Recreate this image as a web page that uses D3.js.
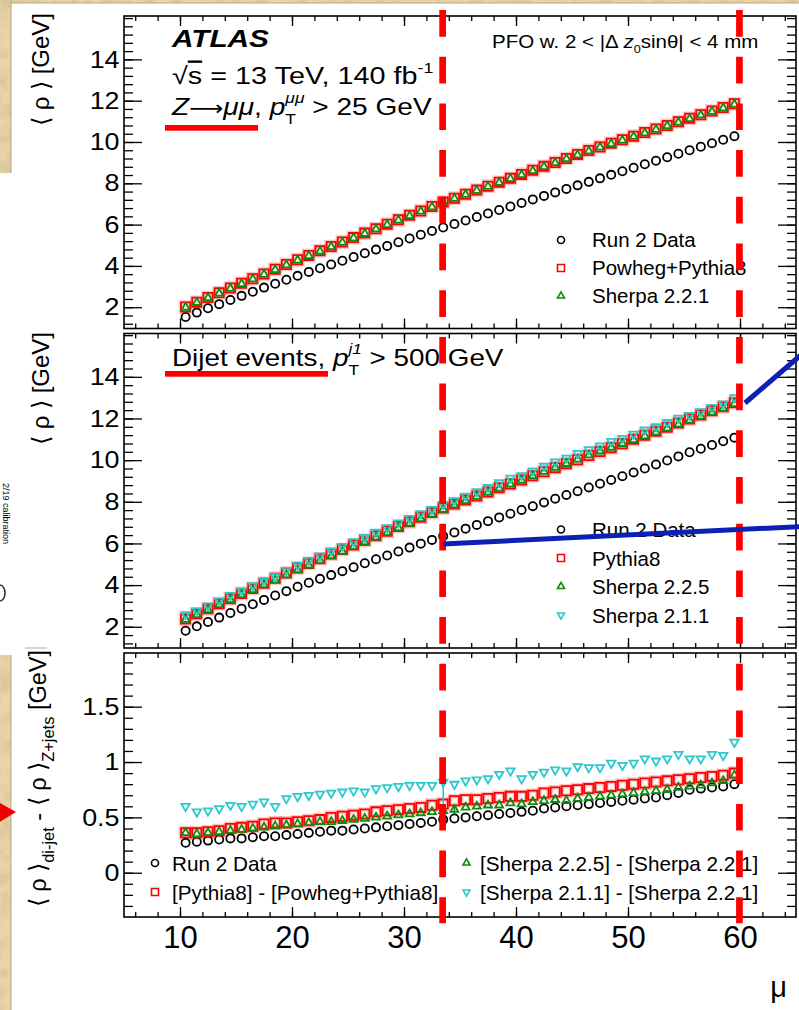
<!DOCTYPE html>
<html>
<head>
<meta charset="utf-8">
<script src="https://cdn.jsdelivr.net/npm/d3@7/dist/d3.min.js"></script>
<style>
  body { margin: 0; background: #fff; }
  svg { display: block; }
  text { white-space: pre; }
</style>
</head>
<body>
<script>
// pile-up bin centres (mu)
const mu = [10.5,11.5,12.5,13.5,14.5,15.5,16.5,17.5,18.5,19.5,20.5,21.5,22.5,23.5,24.5,25.5,26.5,27.5,28.5,29.5,
            30.5,31.5,32.5,33.5,34.5,35.5,36.5,37.5,38.5,39.5,40.5,41.5,42.5,43.5,44.5,45.5,46.5,47.5,48.5,49.5,
            50.5,51.5,52.5,53.5,54.5,55.5,56.5,57.5,58.5,59.5];

// top panel: Z -> mumu, <rho> [GeV]
const zData = [1.53,1.74,1.95,2.15,2.35,2.55,2.75,2.95,3.14,3.33,3.52,3.71,3.89,4.07,4.25,4.43,4.61,4.79,4.97,5.15,
               5.33,5.51,5.69,5.86,6.03,6.20,6.37,6.54,6.71,6.88,7.05,7.22,7.39,7.56,7.73,7.90,8.07,8.24,8.41,8.58,
               8.75,8.92,9.09,9.26,9.43,9.60,9.77,9.94,10.11,10.28];
const zPowheg = [2.01,2.24,2.47,2.70,2.93,3.16,3.38,3.61,3.84,4.07,4.30,4.51,4.73,4.94,5.16,5.37,5.59,5.80,6.02,6.23,
                 6.45,6.66,6.88,7.09,7.28,7.47,7.67,7.86,8.05,8.24,8.43,8.63,8.82,9.01,9.20,9.40,9.59,9.76,9.94,10.11,
                 10.28,10.46,10.63,10.80,10.98,11.15,11.32,11.50,11.67,11.85];
const zSherpa221 = [1.99,2.22,2.45,2.67,2.90,3.13,3.36,3.58,3.81,4.04,4.27,4.49,4.70,4.92,5.13,5.35,5.56,5.78,5.99,6.21,
                    6.42,6.64,6.85,7.06,7.26,7.45,7.65,7.84,8.03,8.22,8.41,8.60,8.80,8.99,9.18,9.37,9.56,9.74,9.91,10.08,
                    10.26,10.43,10.60,10.78,10.95,11.12,11.30,11.47,11.64,11.82];

// middle panel: dijet events
const jData = [1.81,2.02,2.23,2.44,2.66,2.87,3.08,3.29,3.50,3.71,3.92,4.11,4.30,4.48,4.67,4.86,5.05,5.24,5.42,5.61,
               5.80,5.99,6.17,6.35,6.53,6.71,6.89,7.07,7.25,7.43,7.61,7.79,7.97,8.15,8.33,8.51,8.69,8.87,9.05,9.23,
               9.41,9.60,9.79,9.98,10.18,10.38,10.55,10.73,10.91,11.08];
const jPythia8 = [2.37,2.62,2.86,3.11,3.35,3.60,3.84,4.09,4.33,4.58,4.82,5.04,5.26,5.49,5.71,5.93,6.15,6.37,6.59,6.81,
                  7.04,7.26,7.48,7.70,7.89,8.09,8.28,8.47,8.67,8.86,9.05,9.25,9.44,9.64,9.83,10.02,10.22,10.41,10.60,10.79,
                  11.00,11.20,11.39,11.58,11.78,11.98,12.17,12.37,12.56,12.75];
const jSherpa225 = [2.35,2.57,2.81,3.05,3.29,3.53,3.77,4.01,4.24,4.48,4.72,4.95,5.17,5.39,5.61,5.84,6.06,6.29,6.51,6.74,
                    6.96,7.18,7.40,7.63,7.84,8.04,8.25,8.45,8.64,8.85,9.03,9.24,9.45,9.65,9.83,10.04,10.24,10.43,10.61,10.79,
                    10.98,11.16,11.34,11.53,11.72,11.90,12.09,12.28,12.47,12.70];
const jSherpa211 = [2.59,2.77,3.01,3.25,3.51,3.73,3.98,4.22,4.41,4.71,4.96,5.19,5.41,5.64,5.86,6.09,6.29,6.54,6.76,6.99,
                    7.21,7.43,7.64,7.88,8.06,8.28,8.49,8.69,8.92,9.14,9.26,9.49,9.71,9.92,10.10,10.33,10.51,10.69,10.90,11.05,
                    11.25,11.46,11.61,11.81,12.02,12.15,12.33,12.54,12.70,13.00];

// bottom panel: <rho>_dijet - <rho>_Z+jets
const dData = [0.27,0.28,0.29,0.30,0.31,0.31,0.32,0.33,0.33,0.34,0.35,0.36,0.37,0.38,0.38,0.39,0.40,0.41,0.42,0.43,
               0.44,0.45,0.46,0.48,0.49,0.50,0.51,0.52,0.53,0.54,0.55,0.56,0.58,0.59,0.60,0.61,0.62,0.63,0.64,0.65,
               0.66,0.67,0.68,0.70,0.72,0.75,0.76,0.77,0.78,0.80];
const dPythia = [0.36,0.36,0.37,0.38,0.40,0.41,0.42,0.44,0.45,0.45,0.46,0.47,0.48,0.50,0.51,0.52,0.53,0.55,0.56,0.57,
                 0.58,0.59,0.61,0.62,0.65,0.66,0.66,0.67,0.68,0.69,0.69,0.70,0.72,0.73,0.74,0.75,0.76,0.77,0.78,0.79,
                 0.80,0.81,0.82,0.83,0.84,0.85,0.86,0.87,0.88,0.90];
const dSherpa225 = [0.36,0.35,0.36,0.37,0.38,0.39,0.40,0.41,0.42,0.43,0.44,0.45,0.46,0.46,0.47,0.48,0.49,0.50,0.51,0.52,
                    0.53,0.54,0.55,0.56,0.57,0.59,0.60,0.61,0.61,0.63,0.62,0.64,0.65,0.66,0.65,0.67,0.68,0.69,0.70,0.71,
                    0.72,0.73,0.74,0.75,0.77,0.78,0.79,0.81,0.83,0.88];
const dSherpa211 = [0.60,0.55,0.56,0.58,0.61,0.60,0.62,0.64,0.60,0.67,0.69,0.70,0.71,0.72,0.73,0.74,0.73,0.76,0.77,0.78,
                    0.79,0.79,0.79,0.82,0.80,0.83,0.84,0.85,0.89,0.92,0.85,0.89,0.91,0.93,0.92,0.96,0.95,0.95,0.99,0.97,
                    0.99,1.03,1.01,1.03,1.07,1.03,1.03,1.07,1.06,1.18];
// the few error bars that stick out of the markers: [mu, half-width]
const dSherpa211Err = [[33.5, 0.20]];
const dSherpa225Err = [[34.5, 0.04]];

// axis ticks
const xTicks = [10, 20, 30, 40, 50, 60];
const rhoTicks = [2, 4, 6, 8, 10, 12, 14];
const diffTicks = [0, 0.5, 1, 1.5];

const FONT = '"Liberation Sans", Arial, Helvetica, sans-serif';
const RED = "#ff0000", GREEN = "#118a11", CYAN = "#2cc8cc";

const W = 799, H = 1010;
const svg = d3.select("body").append("svg").attr("width", W).attr("height", H);

// ---- slide background (parchment border) ----
const defs = svg.append("defs");
const flt = defs.append("filter").attr("id", "paper")
  .attr("x", 0).attr("y", 0).attr("width", "100%").attr("height", "100%");
flt.append("feTurbulence").attr("type", "fractalNoise").attr("baseFrequency", "0.07")
  .attr("numOctaves", 4).attr("seed", 5).attr("result", "n");
flt.append("feColorMatrix").attr("in", "n").attr("type", "matrix")
  .attr("values", "0 0 0 0 0.62  0 0 0 0 0.50  0 0 0 0 0.30  1.3 0 0 0 -0.45");

svg.append("rect").attr("width", W).attr("height", H).attr("fill", "#e9d5a7");
svg.append("rect").attr("width", W).attr("height", H).attr("fill", "#fff").attr("filter", "url(#paper)");
// white slide area
svg.append("rect").attr("x", 11).attr("y", 3).attr("width", W - 11).attr("height", H - 3).attr("fill", "#fff");
svg.append("rect").attr("x", 0).attr("y", 173).attr("width", 12).attr("height", 482).attr("fill", "#fff");
svg.append("path").attr("d", "M11,0V173M11,655V1010M11,3H799").attr("stroke", "#b9a57c").attr("stroke-width", 1).attr("fill", "none");

// leftover bits of the slide
svg.append("text").attr("transform", "translate(3,483) rotate(90)")
  .attr("font-family", FONT).attr("font-size", 9).text("2/19 calibration");
svg.append("path").attr("d", "M0,585 A5,8 0 0,1 0,601").attr("stroke", "#333").attr("stroke-width", 1.6).attr("fill", "none");
svg.append("line").attr("x1", 25).attr("x2", 47).attr("y1", 648).attr("y2", 648).attr("stroke", "#aaa");

// ---- scales ----
const xScale = d3.scaleLinear().domain([5, 65]).range([124, 796]);
const yTop = d3.scaleLinear().domain([0.97, 16.1]).range([328.5, 16]);
const yMid = d3.scaleLinear().domain([0.98, 16.08]).range([648, 333.5]);
const yBot = d3.scaleLinear().domain([-0.4, 1.985]).range([917, 653]);

const xMinor = d3.range(6, 65, 2);
const rhoMinor = d3.range(3, 41).map(i => i * 0.4);
const diffMinor = d3.range(-3, 20).map(i => i / 10);

function panel(y, major, minor, showX) {
  const [yb, yt] = y.range();
  const [xl, xr] = xScale.range();
  const g = svg.append("g");
  const ax = (axis, tr) => {
    const a = g.append("g").attr("transform", tr).call(axis);
    a.select(".domain").remove();
    a.selectAll("line").attr("stroke", "#000").attr("stroke-width", 1.3);
    return a;
  };
  ax(d3.axisLeft(y).tickValues(minor).tickSize(-9).tickFormat(""), `translate(${xl},0)`);
  const yl = ax(d3.axisLeft(y).tickValues(major).tickSize(-18).tickPadding(4).tickFormat(d => String(d)), `translate(${xl},0)`);
  yl.selectAll("text").attr("font-family", FONT).attr("font-size", 24).attr("fill", "#000")
    .attr("transform", "scale(1.12,1)");
  ax(d3.axisRight(y).tickValues(minor).tickSize(-9).tickFormat(""), `translate(${xr},0)`);
  ax(d3.axisRight(y).tickValues(major).tickSize(-18).tickFormat(""), `translate(${xr},0)`);
  ax(d3.axisBottom(xScale).tickValues(xMinor).tickSize(-5).tickFormat(""), `translate(0,${yb})`);
  const xb = ax(d3.axisBottom(xScale).tickValues(xTicks).tickSize(-10).tickFormat(showX ? (d => d) : ""), `translate(0,${yb})`);
  xb.selectAll("text").attr("font-family", FONT).attr("font-size", 31).attr("fill", "#000").attr("y", 31).attr("dy", 0);
  ax(d3.axisTop(xScale).tickValues(xMinor).tickSize(-5).tickFormat(""), `translate(0,${yt})`);
  ax(d3.axisTop(xScale).tickValues(xTicks).tickSize(-10).tickFormat(""), `translate(0,${yt})`);
  g.append("rect").attr("x", xl).attr("y", yt).attr("width", xr - xl).attr("height", yb - yt)
    .attr("fill", "none").attr("stroke", "#000").attr("stroke-width", 1.6);
}

// marker shapes
function shapePath(shape, s) {
  const r = s / 2, h = s * 0.866;
  if (shape === "circle") return `M${r},0A${r},${r} 0 1,1 ${-r},0A${r},${r} 0 1,1 ${r},0Z`;
  if (shape === "square") return `M${-r},${-r}h${s}v${s}h${-s}Z`;
  if (shape === "up") return `M0,${-h * 2 / 3}L${r},${h / 3}L${-r},${h / 3}Z`;
  return `M0,${h * 2 / 3}L${r},${-h / 3}L${-r},${-h / 3}Z`;
}

function series(y, vals, shape, color, size) {
  const pts = vals.map((v, i) => [mu[i], v]);
  const g = svg.append("g");
  if (shape === "square") {
    g.selectAll(null).data(pts).join("path")
      .attr("transform", d => `translate(${xScale(d[0])},${y(d[1])})`)
      .attr("d", shapePath(shape, size)).attr("fill", "none")
      .attr("stroke", color).attr("stroke-opacity", 0.22).attr("stroke-width", 4.5);
  }
  g.selectAll(null).data(pts).join("path")
    .attr("transform", d => `translate(${xScale(d[0])},${y(d[1])})`)
    .attr("d", shapePath(shape, size)).attr("fill", "none")
    .attr("stroke", color).attr("stroke-width", 1.8);
}

function errors(y, vals, errs, color) {
  svg.append("g").selectAll("line").data(errs).join("line")
    .attr("x1", d => xScale(d[0])).attr("x2", d => xScale(d[0]))
    .attr("y1", d => y(vals[mu.indexOf(d[0])] - d[1]))
    .attr("y2", d => y(vals[mu.indexOf(d[0])] + d[1]))
    .attr("stroke", color).attr("stroke-width", 1.6);
}

// rich text: parts laid out left to right, sub/sup by dy, "stack" = do not advance
function rich(parts, size) {
  const g = svg.append("g");
  let cx = 0, pend = 0;
  parts.forEach(p => {
    const fs = (p.s || 1) * size;
    const t = g.append("text").attr("x", cx).attr("y", (p.dy || 0) * size)
      .attr("font-family", p.f || FONT).attr("font-size", fs)
      .attr("font-style", p.i ? "italic" : null).attr("font-weight", p.b ? "bold" : null)
      .attr("text-decoration", p.o ? "overline" : null)
      .attr("fill", "#000").text(p.t);
    const w = t.node().getComputedTextLength();
    if (p.stack) pend = w; else { cx += Math.max(w, pend); pend = 0; }
  });
  return { g, w: cx };
}
function place(r, x, y, opt = {}) {
  const sx = opt.sx || 1, rot = opt.rot || 0;
  const shift = opt.anchor === "end" ? -r.w : opt.anchor === "middle" ? -r.w / 2 : 0;
  r.g.attr("transform", `translate(${x},${y}) rotate(${rot}) scale(${sx},1) translate(${shift},0)`);
}

// ---- panels ----
panel(yTop, rhoTicks, rhoMinor, false);
panel(yMid, rhoTicks, rhoMinor, false);
panel(yBot, diffTicks, diffMinor, true);

series(yTop, zData, "circle", "#000", 8.2);
series(yTop, zPowheg, "square", RED, 9.2);
series(yTop, zSherpa221, "up", GREEN, 8);

series(yMid, jData, "circle", "#000", 8.2);
series(yMid, jPythia8, "square", RED, 9.2);
series(yMid, jSherpa225, "up", GREEN, 8);
series(yMid, jSherpa211, "down", CYAN, 8.4);

series(yBot, dData, "circle", "#000", 8.2);
series(yBot, dPythia, "square", RED, 9.2);
errors(yBot, dSherpa225, dSherpa225Err, GREEN);
series(yBot, dSherpa225, "up", GREEN, 8);
errors(yBot, dSherpa211, dSherpa211Err, CYAN);
series(yBot, dSherpa211, "down", CYAN, 8.4);

// ---- legends ----
const topLegend = [["Run 2 Data", "circle", "#000"], ["Powheg+Pythia8", "square", RED], ["Sherpa 2.2.1", "up", GREEN]];
const midLegend = [["Run 2 Data", "circle", "#000"], ["Pythia8", "square", RED], ["Sherpa 2.2.5", "up", GREEN], ["Sherpa 2.1.1", "down", CYAN]];
const botLegend = [["Run 2 Data", "circle", "#000"], ["[Pythia8] - [Powheg+Pythia8]", "square", RED],
                   ["[Sherpa 2.2.5] - [Sherpa 2.2.1]", "up", GREEN], ["[Sherpa 2.1.1] - [Sherpa 2.2.1]", "down", CYAN]];

function legendEntry(e, mx, my, tx, ty, fs, msize) {
  svg.append("path").attr("transform", `translate(${mx},${my})`)
    .attr("d", shapePath(e[1], msize)).attr("fill", "none").attr("stroke", e[2]).attr("stroke-width", 1.6);
  svg.append("text").attr("x", tx).attr("y", ty).attr("font-family", FONT).attr("font-size", fs)
    .attr("fill", "#000").text(e[0]);
}
topLegend.forEach((e, i) => legendEntry(e, 561, 240 + i * 28, 592, 246.5 + i * 28, 20.5, 7));
midLegend.forEach((e, i) => legendEntry(e, 561, 529.5 + i * 28.5, 592, 537 + i * 28.5, 20.5, 7));
botLegend.forEach((e, i) => {
  const col = Math.floor(i / 2), row = i % 2;
  legendEntry(e, col ? 466.5 : 155, 863 + row * 29, col ? 480 : 172, 870.5 + row * 29, 20.7, 7);
});

// ---- labels ----
place(rich([{ t: "ATLAS", b: 1, i: 1 }], 24), 172, 47, { sx: 1.24 });
place(rich([{ t: "√" }, { t: "s", o: 1 }, { t: " = 13 TeV, 140 fb" }, { t: "-1", s: 0.62, dy: -0.45 }], 24), 172, 84, { sx: 1.2 });
place(rich([{ t: "Z", i: 1 }, { t: "⟶", f: "DejaVu Sans", s: 0.85 }, { t: "μμ", i: 1 }, { t: ", " }, { t: "p", i: 1 },
            { t: "μμ", i: 1, s: 0.62, dy: -0.5, stack: 1 }, { t: "T", s: 0.62, dy: 0.38 },
            { t: " > 25 GeV" }], 24), 172, 115, { sx: 1.17 });
place(rich([{ t: "PFO w. 2 < |Δ " }, { t: "z", i: 1 }, { t: "0", s: 0.62, dy: 0.3 },
            { t: "sinθ| < 4 mm" }], 18), 492, 48, { sx: 1.14 });
place(rich([{ t: "Dijet events, " }, { t: "p", i: 1 },
            { t: "j1", i: 1, s: 0.62, dy: -0.5, stack: 1 }, { t: "T", s: 0.62, dy: 0.38 },
            { t: " > 500 GeV" }], 24), 172, 366, { sx: 1.16 });

place(rich([{ t: "⟨ ρ ⟩ [GeV]" }], 24), 49, 13, { rot: -90, anchor: "end" });
place(rich([{ t: "⟨ ρ ⟩ [GeV]" }], 24), 49, 332, { rot: -90, anchor: "end" });
place(rich([{ t: "⟨ ρ ⟩" }, { t: "di-jet", s: 0.7, dy: 0.35 }, { t: " - ⟨ ρ ⟩" },
            { t: "Z+jets", s: 0.7, dy: 0.35 }, { t: " [GeV]" }], 23.5), 46, 650, { rot: -90, anchor: "end" });

svg.append("text").attr("x", 787).attr("y", 997).attr("text-anchor", "end")
  .attr("font-family", FONT).attr("font-size", 29).text("μ");

// ---- hand-drawn annotations on the slide ----
const marks = [33.45, 59.95];
svg.append("g").selectAll("line").data(marks).join("line")
  .attr("x1", d => xScale(d)).attr("x2", d => xScale(d)).attr("y1", 10).attr("y2", 923.3)
  .attr("stroke", RED).attr("stroke-width", 6.7).attr("stroke-dasharray", "26.7,20");
svg.append("rect").attr("x", 165).attr("y", 125).attr("width", 93).attr("height", 5.7).attr("fill", RED);
svg.append("rect").attr("x", 165).attr("y", 371).attr("width", 163).attr("height", 5.7).attr("fill", RED);
svg.append("line").attr("x1", 745).attr("y1", 403).attr("x2", 802).attr("y2", 354)
  .attr("stroke", "#0b20b4").attr("stroke-width", 5);
svg.append("line").attr("x1", 443).attr("y1", 544).attr("x2", 802).attr("y2", 526.5)
  .attr("stroke", "#0b20b4").attr("stroke-width", 5);
svg.append("path").attr("d", "M-2,802L16,812L-2,823Z").attr("fill", "#ee0000");
</script>
</body>
</html>
